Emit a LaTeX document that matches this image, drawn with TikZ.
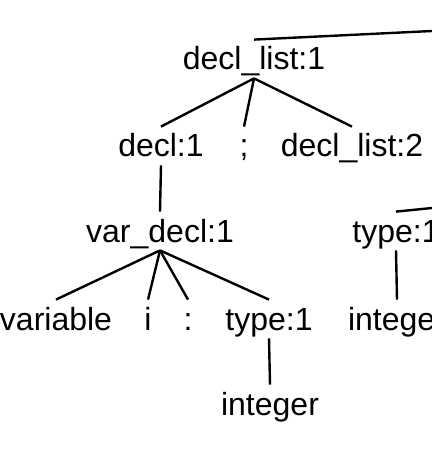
\documentclass[tikz,border=0pt]{standalone}
\usepackage{fontspec}
\setmainfont{Liberation Sans}

\begin{document}
\begin{tikzpicture}[
  x=0.5pt, y=-0.5pt,
  sym/.style={inner sep=0pt, anchor=base, text height=15pt, text depth=4pt,
    font=\fontsize{16pt}{19pt}\selectfont},
  edge/.style={line width=1.2pt, color=black}
]
  \useasboundingbox (0,0) rectangle (432,470);
  \clip (0,0) rectangle (432,470);

  \node[sym] (dl1)   at (254,70)  {decl\_list:1};
  \node[sym] (d1)    at (161,157) {decl:1};
  \node[sym] (semi)  at (244,157) {;};
  \node[sym] (dl2)   at (352,157) {decl\_list:2};
  \node[sym] (vd1)   at (160,242) {var\_decl:1};
  \node[sym] (var)   at (56,330)  {variable};
  \node[sym] (iden)  at (148,330) {i};
  \node[sym] (colon) at (188,330) {:};
  \node[sym] (ty1)   at (269,330) {type:1};
  \node[sym] (int1)  at (270,415) {integer};
  \node[sym] (ty2)   at (396,242) {type:1};
  \node[sym] (int2)  at (397,330) {integer};

  \foreach \p/\c in {dl1/d1, dl1/semi, dl1/dl2, d1/vd1, vd1/var, vd1/iden,
    vd1/colon, vd1/ty1, ty1/int1, ty2/int2} {
    \draw[edge] (\p.south) -- (\c.north);
  }

  % edges up to parents outside the crop
  \coordinate (up1) at (432,31);
  \coordinate (up2) at (432,208);
  \draw[edge] (dl1.north) -- (up1);
  \draw[edge] (ty2.north) -- (up2);
\end{tikzpicture}
\end{document}
